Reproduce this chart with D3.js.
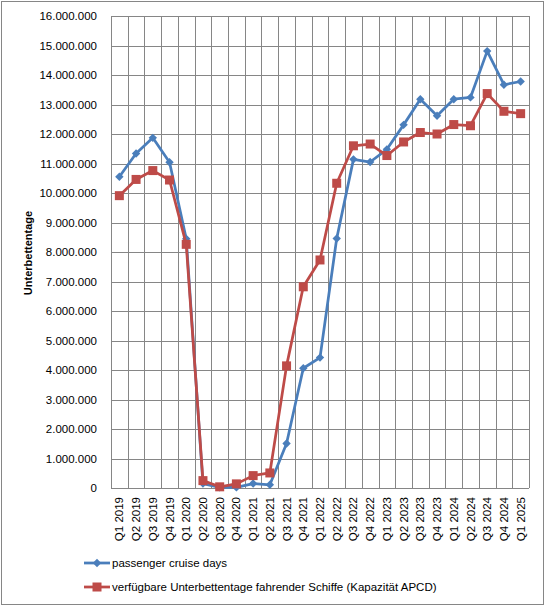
<!DOCTYPE html>
<html lang="de">
<head>
    <meta charset="UTF-8">
    <title>Unterbettentage</title>
    <script src="https://d3js.org/d3.v7.min.js"></script>
    <style>
        body { margin: 0; background: #fff; }
        text { font-family: "Liberation Sans", Arial, sans-serif; fill: #000; }
    </style>
</head>
<body>
    <svg width="545" height="606"></svg>

    <script>
        // Quarters on the x axis
        const quarters = [
            "Q1 2019", "Q2 2019", "Q3 2019", "Q4 2019",
            "Q1 2020", "Q2 2020", "Q3 2020", "Q4 2020",
            "Q1 2021", "Q2 2021", "Q3 2021", "Q4 2021",
            "Q1 2022", "Q2 2022", "Q3 2022", "Q4 2022",
            "Q1 2023", "Q2 2023", "Q3 2023", "Q4 2023",
            "Q1 2024", "Q2 2024", "Q3 2024", "Q4 2024",
            "Q1 2025"
        ];

        // passenger cruise days
        const cruiseDays = [
            10550000, 11340000, 11870000, 11040000,
            8450000, 150000, 20000, 20000,
            150000, 110000, 1510000, 4060000,
            4420000, 8460000, 11140000, 11050000,
            11480000, 12310000, 13180000, 12620000,
            13180000, 13240000, 14810000, 13670000,
            13780000
        ];

        // verfügbare Unterbettentage (Kapazität APCD)
        const capacity = [
            9910000, 10460000, 10760000, 10440000,
            8260000, 250000, 40000, 140000,
            420000, 510000, 4140000, 6820000,
            7730000, 10330000, 11600000, 11660000,
            11270000, 11730000, 12050000, 12000000,
            12320000, 12280000, 13370000, 12770000,
            12690000
        ];

        const seriesNames = [
            "passenger cruise days",
            "verfügbare Unterbettentage fahrender Schiffe (Kapazität APCD)"
        ];

        const yTicks = d3.range(0, 16000001, 1000000);

        const width = 545;
        const height = 606;
        const margin = {top: 16, right: 16, bottom: 118, left: 111};

        const blue = "#4a7ebb";
        const red = "#be4b48";
        const grid = "#868686";

        const de = d3.formatLocale({decimal: ",", thousands: ".", grouping: [3], currency: ["", "€"]});
        const fmt = de.format(",d");

        const svg = d3.select("svg");

        // outer chart border
        svg.append("rect")
            .attr("x", 1.5).attr("y", 1.5)
            .attr("width", width - 3).attr("height", height - 3)
            .attr("fill", "none")
            .attr("stroke", grid);

        const x = d3.scaleBand()
            .domain(quarters)
            .range([margin.left, width - margin.right]);

        const y = d3.scaleLinear()
            .domain([0, 16000000])
            .range([height - margin.bottom, margin.top]);

        const cx = d => x(d) + x.bandwidth() / 2;

        // horizontal gridlines
        svg.append("g")
            .selectAll("line")
            .data(yTicks)
            .enter().append("line")
            .attr("x1", margin.left).attr("x2", width - margin.right)
            .attr("y1", d => Math.round(y(d)) + 0.5).attr("y2", d => Math.round(y(d)) + 0.5)
            .attr("stroke", grid);

        // vertical gridlines between categories
        const bounds = quarters.map(q => x(q)).concat([width - margin.right]);
        svg.append("g")
            .selectAll("line")
            .data(bounds)
            .enter().append("line")
            .attr("x1", d => Math.round(d) + 0.5).attr("x2", d => Math.round(d) + 0.5)
            .attr("y1", margin.top).attr("y2", height - margin.bottom)
            .attr("stroke", grid);

        // y axis labels
        svg.append("g")
            .selectAll("text")
            .data(yTicks)
            .enter().append("text")
            .attr("x", margin.left - 14)
            .attr("y", d => y(d))
            .attr("dy", "0.35em")
            .attr("text-anchor", "end")
            .style("font-size", "11.5px")
            .text(d => fmt(d));

        // y axis title
        svg.append("text")
            .attr("transform", `translate(32,${(margin.top + height - margin.bottom) / 2 + 1}) rotate(-90)`)
            .attr("text-anchor", "middle")
            .style("font-size", "11px")
            .style("font-weight", "bold")
            .text("Unterbettentage");

        // x axis labels, rotated
        svg.append("g")
            .selectAll("text")
            .data(quarters)
            .enter().append("text")
            .attr("transform", d => `translate(${cx(d)},${height - margin.bottom + 9}) rotate(-90)`)
            .attr("text-anchor", "end")
            .attr("dy", "0.35em")
            .style("font-size", "11.5px")
            .text(d => d);

        const line = d3.line()
            .x((d, i) => cx(quarters[i]))
            .y(d => y(d));

        const diamond = d3.symbol().type(d3.symbolDiamond2).size(45);

        // cruise days series (blue, diamonds) - drawn first, as in Excel
        svg.append("path")
            .datum(cruiseDays)
            .attr("d", line)
            .attr("fill", "none")
            .attr("stroke", blue)
            .attr("stroke-width", 2.75)
            .attr("stroke-linejoin", "round");

        svg.append("g")
            .selectAll("path")
            .data(cruiseDays)
            .enter().append("path")
            .attr("d", diamond)
            .attr("transform", (d, i) => `translate(${cx(quarters[i])},${y(d)})`)
            .attr("fill", blue);

        // capacity series (red, squares) on top
        svg.append("path")
            .datum(capacity)
            .attr("d", line)
            .attr("fill", "none")
            .attr("stroke", red)
            .attr("stroke-width", 2.75)
            .attr("stroke-linejoin", "round");

        svg.append("g")
            .selectAll("rect")
            .data(capacity)
            .enter().append("rect")
            .attr("x", (d, i) => cx(quarters[i]) - 4.5)
            .attr("y", d => y(d) - 4.5)
            .attr("width", 9).attr("height", 9)
            .attr("fill", red);

        // legend
        const legend = [
            {name: seriesNames[0], color: blue, y: 563, shape: "diamond"},
            {name: seriesNames[1], color: red, y: 587, shape: "square"}
        ];
        const lg = svg.append("g");
        legend.forEach(l => {
            lg.append("line")
                .attr("x1", 84).attr("x2", 110)
                .attr("y1", l.y).attr("y2", l.y)
                .attr("stroke", l.color)
                .attr("stroke-width", 2.75);
            if (l.shape === "diamond") {
                lg.append("path")
                    .attr("d", diamond)
                    .attr("transform", `translate(97,${l.y})`)
                    .attr("fill", l.color);
            } else {
                lg.append("rect")
                    .attr("x", 92.5).attr("y", l.y - 4.5)
                    .attr("width", 9).attr("height", 9)
                    .attr("fill", l.color);
            }
            lg.append("text")
                .attr("x", 112)
                .attr("y", l.y)
                .attr("dy", "0.35em")
                .style("font-size", "11.5px")
                .text(l.name);
        });
    </script>
</body>
</html>
